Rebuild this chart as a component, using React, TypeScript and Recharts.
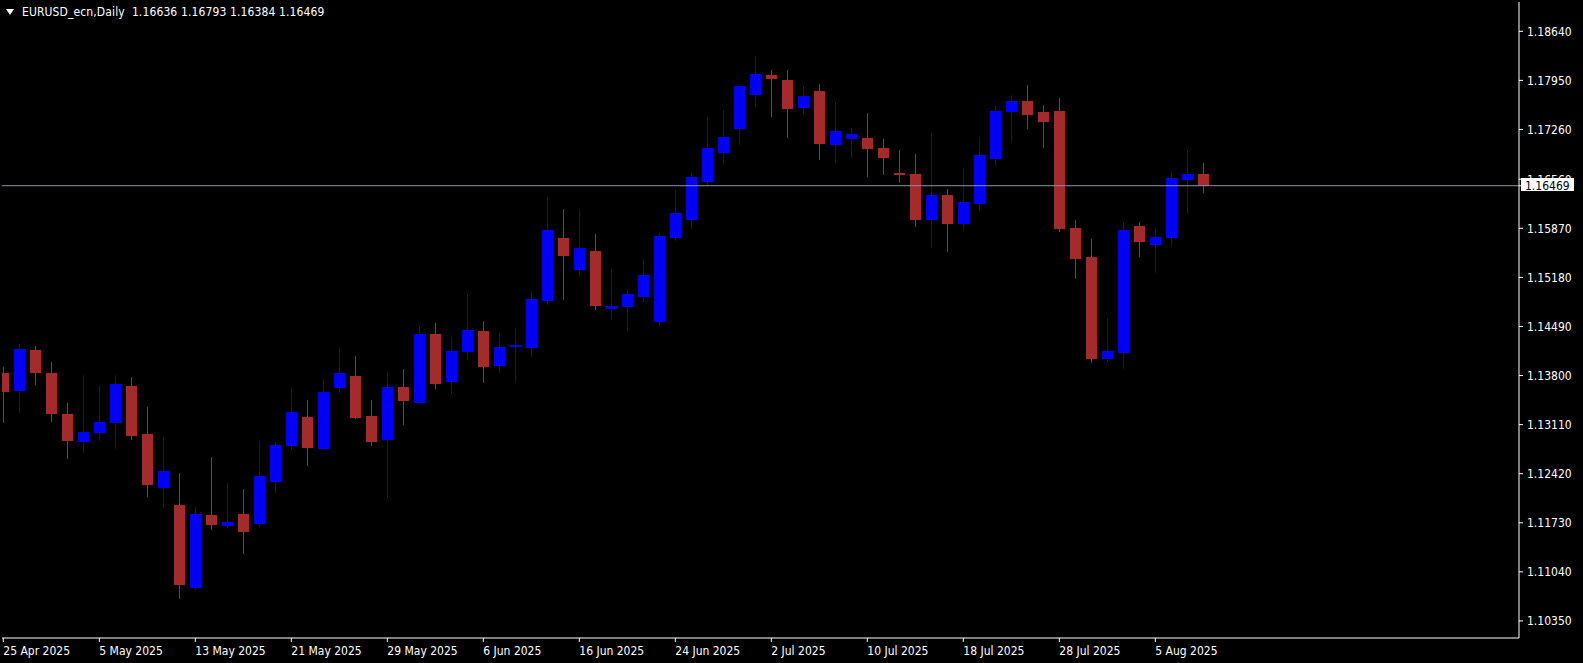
import React from 'react';
import { ComposedChart, Bar, XAxis, YAxis, ReferenceLine } from 'recharts';

const symbolTitle = 'EURUSD_ecn,Daily';

const dates = [
  '25 Apr 2025', '28 Apr 2025', '29 Apr 2025', '30 Apr 2025', '1 May 2025', '2 May 2025',
  '5 May 2025', '6 May 2025', '7 May 2025', '8 May 2025', '9 May 2025', '12 May 2025',
  '13 May 2025', '14 May 2025', '15 May 2025', '16 May 2025', '19 May 2025', '20 May 2025',
  '21 May 2025', '22 May 2025', '23 May 2025', '26 May 2025', '27 May 2025', '28 May 2025',
  '29 May 2025', '30 May 2025', '2 Jun 2025', '3 Jun 2025', '4 Jun 2025', '5 Jun 2025',
  '6 Jun 2025', '9 Jun 2025', '10 Jun 2025', '11 Jun 2025', '12 Jun 2025', '13 Jun 2025',
  '16 Jun 2025', '17 Jun 2025', '18 Jun 2025', '19 Jun 2025', '20 Jun 2025', '23 Jun 2025',
  '24 Jun 2025', '25 Jun 2025', '26 Jun 2025', '27 Jun 2025', '30 Jun 2025', '1 Jul 2025',
  '2 Jul 2025', '3 Jul 2025', '4 Jul 2025', '7 Jul 2025', '8 Jul 2025', '9 Jul 2025',
  '10 Jul 2025', '11 Jul 2025', '14 Jul 2025', '15 Jul 2025', '16 Jul 2025', '17 Jul 2025',
  '18 Jul 2025', '21 Jul 2025', '22 Jul 2025', '23 Jul 2025', '24 Jul 2025', '25 Jul 2025',
  '28 Jul 2025', '29 Jul 2025', '30 Jul 2025', '31 Jul 2025', '1 Aug 2025', '4 Aug 2025',
  '5 Aug 2025', '6 Aug 2025', '7 Aug 2025', '8 Aug 2025',
];

const opens = [
  1.13836, 1.13583, 1.14159, 1.13836, 1.13259, 1.12870, 1.12992, 1.13133, 1.13653, 1.12978,
  1.12223, 1.11980, 1.10817, 1.11839, 1.11689, 1.11853, 1.11717, 1.12307, 1.12814, 1.13217,
  1.12767, 1.13629, 1.13793, 1.13231, 1.12898, 1.13639, 1.13418, 1.14384, 1.13713, 1.14135,
  1.14426, 1.13938, 1.14205, 1.14191, 1.14848, 1.15734, 1.15288, 1.15551, 1.14740, 1.14768,
  1.14908, 1.14557, 1.15738, 1.15987, 1.16521, 1.16933, 1.17271, 1.17749, 1.18026, 1.17955,
  1.17562, 1.17801, 1.17046, 1.17130, 1.17140, 1.16999, 1.16648, 1.16634, 1.15991, 1.16334,
  1.15935, 1.16216, 1.16844, 1.17510, 1.17660, 1.17505, 1.17519, 1.15874, 1.15467, 1.14033,
  1.14117, 1.15902, 1.15635, 1.15738, 1.16553, 1.16636,
];

const highs = [
  1.13916, 1.14243, 1.14215, 1.13986, 1.13414, 1.13808, 1.13653, 1.13808, 1.13779, 1.13358,
  1.12936, 1.12430, 1.11952, 1.12659, 1.12289, 1.12209, 1.12884, 1.12866, 1.13629, 1.13456,
  1.13751, 1.14187, 1.14075, 1.13456, 1.13850, 1.13892, 1.14496, 1.14539, 1.14342, 1.14946,
  1.14567, 1.14398, 1.14468, 1.14989, 1.16310, 1.16142, 1.16142, 1.15790, 1.15298, 1.15003,
  1.15439, 1.15804, 1.16409, 1.16648, 1.17435, 1.17533, 1.17871, 1.18293, 1.18096, 1.18096,
  1.17871, 1.17899, 1.17646, 1.17280, 1.17491, 1.17126, 1.16971, 1.16915, 1.17210, 1.16423,
  1.16722, 1.17154, 1.17604, 1.17744, 1.17885, 1.17604, 1.17702, 1.15987, 1.15720, 1.14613,
  1.15959, 1.15959, 1.15874, 1.16676, 1.16971, 1.16793,
];

const lows = [
  1.13151, 1.13292, 1.13685, 1.13165, 1.12645, 1.12729, 1.12898, 1.12785, 1.12912, 1.12110,
  1.11956, 1.10672, 1.10803, 1.11647, 1.11675, 1.11309, 1.11689, 1.12167, 1.12771, 1.12546,
  1.12767, 1.13573, 1.13203, 1.12827, 1.12096, 1.13123, 1.13414, 1.13629, 1.13559, 1.14037,
  1.13713, 1.13854, 1.13713, 1.14075, 1.14810, 1.14880, 1.15214, 1.14740, 1.14599, 1.14444,
  1.14852, 1.14529, 1.15710, 1.15879, 1.16497, 1.16792, 1.17055, 1.17590, 1.17453, 1.17158,
  1.17495, 1.16849, 1.16807, 1.16877, 1.16610, 1.16638, 1.16525, 1.15907, 1.15611, 1.15555,
  1.15850, 1.16132, 1.16760, 1.17088, 1.17285, 1.17017, 1.15836, 1.15176, 1.13995, 1.14009,
  1.13910, 1.15485, 1.15260, 1.15626, 1.16085, 1.16384,
];

const closes = [
  1.13573, 1.14173, 1.13840, 1.13263, 1.12884, 1.13006, 1.13147, 1.13681, 1.12954, 1.12265,
  1.12458, 1.10855, 1.11853, 1.11703, 1.11741, 1.11604, 1.12387, 1.12823, 1.13287, 1.12785,
  1.13569, 1.13831, 1.13207, 1.12870, 1.13639, 1.13446, 1.14384, 1.13685, 1.14145, 1.14440,
  1.13924, 1.14201, 1.14229, 1.14876, 1.15846, 1.15485, 1.15593, 1.14782, 1.14782, 1.14946,
  1.15214, 1.15762, 1.16085, 1.16591, 1.16999, 1.17154, 1.17871, 1.18040, 1.17974, 1.17552,
  1.17730, 1.17060, 1.17238, 1.17196, 1.16989, 1.16863, 1.16620, 1.15991, 1.16334, 1.15935,
  1.16240, 1.16901, 1.17519, 1.17660, 1.17467, 1.17369, 1.15865, 1.15443, 1.14037, 1.14145,
  1.15846, 1.15682, 1.15744, 1.16577, 1.16634, 1.16469,
];

const priceTicks = [
  1.1864, 1.1795, 1.1726, 1.1656, 1.1587, 1.1518, 1.1449, 1.138, 1.1311, 1.1242, 1.1173, 1.1104, 1.1035,
];

const dateTickIndexes = [0, 6, 12, 18, 24, 30, 36, 42, 48, 54, 60, 66, 72];

const priceDomain: [number, number] = [1.1011, 1.19052];
const indexDomain: [number, number] = [-0.081, 94.73];

const BULL = '#0000ff';
const BEAR = '#a52a2a';
const FG = '#ffffff';
const FONT = '"DejaVu Sans Condensed", "DejaVu Sans", sans-serif';

const data = dates.map((d, i) => ({
  idx: i,
  date: d,
  o: opens[i],
  h: highs[i],
  l: lows[i],
  c: closes[i],
  range: [lows[i], highs[i]],
}));

const last = data[data.length - 1];
// the bid tag is drawn as the last tick so it lies over the grid label behind it
const axisTicks = [...priceTicks, last.c];

const Candle = (props: any) => {
  const { x, y, width, height, payload } = props;
  if (x == null || y == null || payload == null) return null;
  const top = Math.min(y, y + height);
  const bottom = Math.max(y, y + height);
  const { o, h, l, c } = payload;
  const span = h - l || 1e-9;
  const toY = (p: number) => top + ((h - p) / span) * (bottom - top);
  const yo = toY(o);
  const yc = toY(c);
  const color = c >= o ? BULL : BEAR;
  const bx = Math.round(x);
  const bw = Math.round(width);
  const cx = bx + Math.floor(bw / 2);
  const wTop = Math.round(top);
  const wBot = Math.round(bottom);
  const bTop = Math.round(Math.min(yo, yc));
  const bBot = Math.round(Math.max(yo, yc));
  return (
    <g>
      <rect x={cx} y={wTop} width={1} height={Math.max(1, wBot - wTop + 1)} fill={color} />
      <rect x={bx} y={bTop} width={bw} height={Math.max(1, bBot - bTop)} fill={color} />
    </g>
  );
};

const DateTick = (props: any) => {
  const { x, y, payload } = props;
  return (
    <text x={x} y={y} dy={11} fill={FG} fontSize={12} fontFamily={FONT} textAnchor="start">
      {dates[payload.value]}
    </text>
  );
};

const PriceTick = (props: any) => {
  const { x, y, payload } = props;
  const v = Number(payload.value);
  if (v === last.c) {
    const x0 = x - 6;
    return (
      <g>
        <rect x={x0} y={Math.round(y) - 8} width={53} height={13} fill="#ffffff" />
        <text x={x0 + 4} y={y} dy={4.5} fill="#000000" fontSize={12} fontFamily={FONT}>
          {v.toFixed(5)}
        </text>
      </g>
    );
  }
  return (
    <text x={x} y={y} dy={4.5} fill={FG} fontSize={12} fontFamily={FONT} textAnchor="start">
      {v.toFixed(5)}
    </text>
  );
};

export default function App() {
  return (
    <div
      style={{
        position: 'absolute',
        left: 0,
        top: 0,
        width: 1583,
        height: 663,
        background: '#000000',
        overflow: 'hidden',
      }}
    >
      <ComposedChart
        width={1583}
        height={663}
        data={data}
        margin={{ top: 2, right: 0, bottom: 0, left: 2 }}
      >
        <XAxis
          xAxisId="frameTop"
          orientation="top"
          type="number"
          dataKey="idx"
          domain={indexDomain}
          allowDataOverflow
          height={0}
          tick={false}
          tickLine={false}
          axisLine={{ stroke: FG }}
        />
        <YAxis
          yAxisId="frameLeft"
          orientation="left"
          type="number"
          domain={priceDomain}
          allowDataOverflow
          width={0}
          tick={false}
          tickLine={false}
          axisLine={{ stroke: FG }}
        />
        <XAxis
          type="number"
          dataKey="idx"
          domain={indexDomain}
          allowDataOverflow
          ticks={dateTickIndexes}
          interval={0}
          height={25}
          tickSize={4}
          tickMargin={2}
          tickLine={{ stroke: FG }}
          axisLine={{ stroke: FG }}
          tick={<DateTick />}
        />
        <YAxis
          orientation="right"
          type="number"
          domain={priceDomain}
          allowDataOverflow
          ticks={axisTicks}
          interval={0}
          width={64}
          tickSize={4}
          tickMargin={4}
          tickLine={{ stroke: FG }}
          axisLine={{ stroke: FG }}
          tick={<PriceTick />}
        />
        <ReferenceLine y={last.c} stroke="#8593a1" strokeWidth={1} ifOverflow="visible" />
        <Bar
          dataKey="range"
          barSize={11}
          isAnimationActive={false}
          shape={(p: any) => <Candle {...p} />}
        />
      </ComposedChart>
      <div
        style={{
          position: 'absolute',
          left: 6,
          top: 9,
          width: 0,
          height: 0,
          borderLeft: '4.5px solid transparent',
          borderRight: '4.5px solid transparent',
          borderTop: '6px solid #ffffff',
        }}
      />
      <div
        style={{
          position: 'absolute',
          left: 22,
          top: 5,
          fontFamily: FONT,
          fontSize: 12,
          lineHeight: '14px',
          letterSpacing: '0.12px',
          color: FG,
          whiteSpace: 'pre',
        }}
      >
        {`${symbolTitle}  ${last.o.toFixed(5)} ${last.h.toFixed(5)} ${last.l.toFixed(5)} ${last.c.toFixed(5)}`}
      </div>
    </div>
  );
}
